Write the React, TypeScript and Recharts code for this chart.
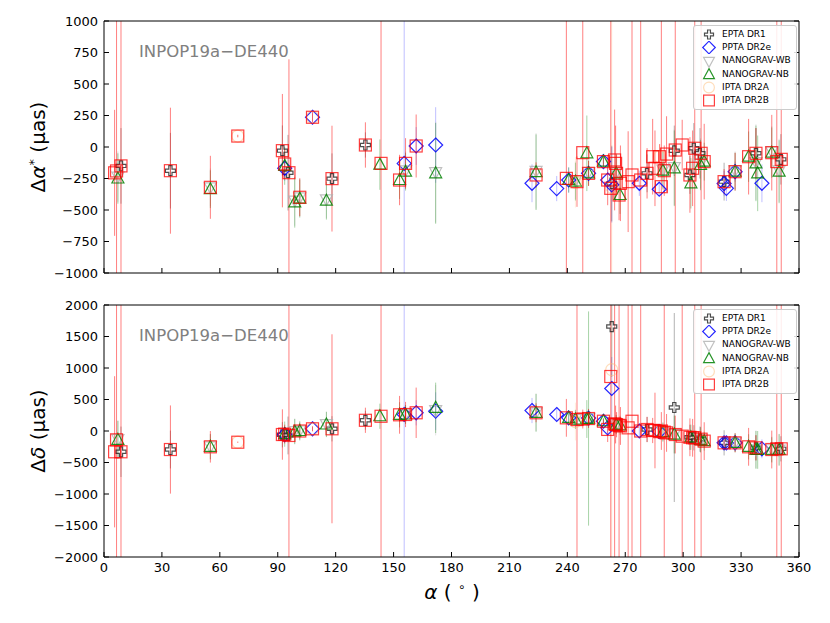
import { ScatterChart, Scatter, XAxis, YAxis, ErrorBar, Legend } from 'recharts';

// rows: [ra (deg), dAlpha*, err dAlpha*, dDelta, err dDelta]  (µas)
type Row = [number, number, number, number, number];

const X_TICKS = [0, 30, 60, 90, 120, 150, 180, 210, 240, 270, 300, 330, 360];
const ALPHA_TICKS = [-1000, -750, -500, -250, 0, 250, 500, 750, 1000];
const DELTA_TICKS = [-2000, -1500, -1000, -500, 0, 500, 1000, 1500, 2000];

const EPTA_DR1: Row[] = [
  [8.8, -150, 300, -330, 400],
  [34.4, -188, 300, -294, 300],
  [92.4, -29, 200, -60, 200],
  [95.3, -204, 300, -71, 300],
  [118.1, -251, 200, 35, 200],
  [135.4, 16, 100, 170, 150],
  [263, -290, 300, 1658, 800],
  [281.3, -209, 150, 24, 200],
  [295.4, -30, 200, 373, 1500],
  [303.5, -222, 150, -100, 200],
  [305.5, -10, 200, -108, 200],
  [308.7, -50, 200, -130, 200],
  [321.2, -275, 150, -188, 200],
  [337.7, -50, 200, -267, 200],
  [350.6, -98, 200, -283, 200],
];

const PPTA_DR2E: Row[] = [
  [93.6, -169, 100, -56, 100],
  [108, 236, 30, 35, 30],
  [155.5, -130, 3000, 262, 3000],
  [161.7, 8, 150, 289, 200],
  [171.8, 16, 300, 314, 300],
  [221.7, -288, 150, 325, 200],
  [234.5, -330, 100, 262, 100],
  [240.7, -262, 100, 209, 100],
  [251, -209, 50, 205, 50],
  [258.7, -116, 30, 155, 30],
  [260.9, -262, 100, 50, 100],
  [263, -300, 300, 675, 500],
  [277.3, -288, 100, 0, 100],
  [287.6, -335, 50, -10, 50],
  [321.2, -290, 100, -188, 100],
  [322.4, -328, 100, -190, 100],
  [326.9, -196, 80, -188, 80],
  [340.8, -288, 150, -283, 150],
];

const NANOGRAV_WB: Row[] = [
  [7.2, -235, 200, -130, 300],
  [55.1, -320, 150, -245, 200],
  [98.8, -425, 200, 0, 200],
  [101.4, -400, 150, 10, 150],
  [115.2, -415, 150, 110, 200],
  [156.2, -185, 150, 265, 150],
  [171.8, -200, 400, 330, 400],
  [223.8, -190, 300, 295, 300],
  [244.2, -265, 150, 190, 150],
  [251, -200, 100, 205, 150],
  [265.3, -200, 150, 105, 150],
  [289.5, -180, 150, -10, 150],
  [295.4, -160, 300, -50, 300],
  [309, -130, 200, -135, 200],
  [326.9, -185, 150, -180, 150],
  [337.7, -120, 300, -290, 300],
  [345.9, -35, 200, -290, 200],
  [349.7, -185, 250, -295, 250],
];

const NANOGRAV_NB: Row[] = [
  [7.2, -250, 200, -140, 300],
  [55.1, -335, 150, -251, 200],
  [93.6, -150, 150, -50, 200],
  [98.8, -440, 200, -10, 200],
  [101.4, -410, 150, 0, 150],
  [115.2, -426, 150, 103, 200],
  [142.9, -140, 200, 234, 200],
  [153.1, -262, 150, 257, 200],
  [156.2, -196, 150, 262, 150],
  [171.8, -209, 400, 368, 400],
  [223.8, -200, 300, 289, 300],
  [240.7, -262, 100, 209, 100],
  [244.2, -275, 150, 182, 150],
  [250.1, -50, 300, 190, 300],
  [251, -209, 100, 198, 1700],
  [258.7, -116, 50, 155, 50],
  [265.3, -209, 150, 100, 150],
  [267.3, -381, 150, 90, 150],
  [289.5, -188, 150, -19, 150],
  [295.4, -169, 300, -56, 300],
  [304, -288, 200, -100, 200],
  [309, -143, 200, -140, 200],
  [310.9, -116, 150, -161, 150],
  [326.9, -196, 150, -188, 150],
  [333.9, -77, 200, -251, 200],
  [337.7, -130, 300, -300, 300],
  [338.6, -209, 300, -300, 300],
  [345.9, -45, 200, -300, 200],
  [349.7, -196, 250, -300, 250],
];

const IPTA_DR2A: Row[] = [
  [69.3, 87, 10, -178, 10],
  [108, 236, 40, 35, 40],
  [244.2, -280, 200, 150, 300],
  [263, -320, 3000, 975, 3000],
  [287.8, -77, 100, -10, 100],
];

const IPTA_DR2B: Row[] = [
  [5.5, -205, 500, -330, 1200],
  [6.5, -190, 3000, -140, 3000],
  [8.8, -150, 3000, -330, 3000],
  [34.4, -188, 500, -294, 700],
  [55.1, -320, 250, -251, 250],
  [69.3, 87, 10, -178, 10],
  [92.4, -29, 450, -56, 400],
  [93.6, -135, 120, -50, 150],
  [95.8, -204, 900, -71, 3000],
  [101.4, -399, 150, 0, 120],
  [108, 236, 40, 35, 40],
  [118.1, -251, 420, 35, 1500],
  [135.4, 16, 180, 170, 200],
  [143.5, -130, 3000, 234, 3000],
  [153.1, -262, 200, 257, 300],
  [156.2, -130, 200, 262, 200],
  [161.7, 8, 250, 289, 400],
  [223.8, -222, 100, 289, 150],
  [239.5, -249, 3000, 209, 300],
  [245, -275, 200, 182, 3000],
  [248, -45, 3000, 190, 150],
  [251, -209, 100, 198, 150],
  [258.7, -116, 40, 155, 40],
  [260.9, -262, 200, 25, 200],
  [262.5, -328, 3000, 865, 3000],
  [264.5, -103, 400, 114, 3000],
  [265, -130, 300, 103, 300],
  [265.5, -209, 150, 100, 200],
  [266.8, -381, 200, 90, 3000],
  [267.5, -288, 300, 80, 300],
  [271.5, -275, 400, 50, 3000],
  [273.5, -222, 3000, 155, 3000],
  [278, -262, 3000, 0, 3000],
  [281.3, -209, 200, 24, 200],
  [284.2, -77, 300, 8, 200],
  [285.4, -169, 300, 8, 600],
  [288.7, -315, 3000, 0, 300],
  [287.8, -77, 100, -10, 100],
  [290.2, -188, 200, -19, 3000],
  [291.4, -56, 300, -30, 300],
  [295.9, -24, 3000, -56, 300],
  [299.5, 16, 200, -82, 3000],
  [303.5, -222, 300, -100, 300],
  [304.9, -169, 300, -108, 300],
  [306, -10, 3000, -108, 3000],
  [309.3, -50, 3000, -130, 3000],
  [310.9, -116, 300, -161, 300],
  [321.2, -275, 100, -188, 100],
  [326.9, -196, 150, -188, 150],
  [333.9, -77, 300, -251, 300],
  [337.7, -50, 200, -267, 200],
  [345.9, -45, 300, -294, 300],
  [348.5, -116, 3000, -283, 3000],
  [350.8, -98, 3000, -283, 3000],
];

const SERIES = [
  { name: 'EPTA DR1', rows: EPTA_DR1, kind: 'plus', color: '#222222', op: 0.8, errOp: 0.35 },
  { name: 'PPTA DR2e', rows: PPTA_DR2E, kind: 'diamond', color: '#0000ff', op: 0.85, errOp: 0.25 },
  { name: 'NANOGRAV-WB', rows: NANOGRAV_WB, kind: 'tridown', color: '#b0b0b0', op: 0.8, errOp: 0.35 },
  { name: 'NANOGRAV-NB', rows: NANOGRAV_NB, kind: 'tri', color: '#008000', op: 0.85, errOp: 0.35 },
  { name: 'IPTA DR2A', rows: IPTA_DR2A, kind: 'circle', color: '#ffbb77', op: 0.5, errOp: 0.25 },
  { name: 'IPTA DR2B', rows: IPTA_DR2B, kind: 'square', color: '#ff0000', op: 0.75, errOp: 0.5 },
];

function Marker({ kind, cx, cy, color, op, s = 1 }: any) {
  const common = { fill: 'none', stroke: color, strokeOpacity: op, strokeWidth: 1.2 };
  if (cx == null || cy == null) return null;
  switch (kind) {
    case 'square':
      return <rect x={cx - 6 * s} y={cy - 6 * s} width={12 * s} height={12 * s} {...common} />;
    case 'diamond':
      return <path d={`M${cx},${cy - 7 * s}L${cx + 7 * s},${cy}L${cx},${cy + 7 * s}L${cx - 7 * s},${cy}Z`} {...common} />;
    case 'tri':
      return <path d={`M${cx},${cy - 6.5 * s}L${cx + 6 * s},${cy + 4.5 * s}L${cx - 6 * s},${cy + 4.5 * s}Z`} {...common} />;
    case 'tridown':
      return <path d={`M${cx},${cy + 6.5 * s}L${cx + 6 * s},${cy - 4.5 * s}L${cx - 6 * s},${cy - 4.5 * s}Z`} {...common} />;
    case 'circle':
      return <circle cx={cx} cy={cy} r={6 * s} {...common} />;
    default: {
      const a = 1.6 * s;
      const b = 5 * s;
      const d = `M${cx - a},${cy - b}H${cx + a}V${cy - a}H${cx + b}V${cy + a}H${cx + a}V${cy + b}H${cx - a}V${cy + a}H${cx - b}V${cy - a}H${cx - a}Z`;
      return <path d={d} {...common} />;
    }
  }
}

const fmt = (v: number) => String(v).replace('-', '\u2212');
const blank = () => '';

function LegendBox(props: any) {
  const names = (props.payload || []).map((p: any) => p.value);
  const list = names.length ? SERIES.filter((s) => names.includes(s.name)) : SERIES;
  return (
    <div
      style={{
        border: '1px solid #cccccc',
        borderRadius: 3,
        background: 'rgba(255,255,255,0.85)',
        padding: '2px 5px 2px 5px',
        fontFamily: 'DejaVu Sans, sans-serif',
        fontSize: 9,
        lineHeight: '13.2px',
        color: '#000',
      }}
    >
      {list.map((s) => (
        <div key={s.name} style={{ display: 'flex', alignItems: 'center', whiteSpace: 'nowrap' }}>
          <svg width={20} height={13} style={{ flex: 'none' }}>
            <Marker kind={s.kind} cx={10} cy={6.5} color={s.color} op={s.op} s={0.9} />
          </svg>
          <span style={{ marginLeft: 3 }}>{s.name}</span>
        </div>
      ))}
    </div>
  );
}

const tickLine = { stroke: '#000', strokeWidth: 1 };

function Panel({ valueIdx, ticks, domain, height }: any) {
  const plotH = 252;
  const [lo, hi] = domain;
  // error bars are cut at the axis limits, as matplotlib clips them to the axes box
  const build = (rows: Row[]) =>
    rows.map((r) => {
      const v = r[valueIdx];
      const e = r[valueIdx + 1];
      return { ra: r[0], v, err: [Math.max(0, Math.min(e, v - lo)), Math.max(0, Math.min(e, hi - v))] };
    });
  return (
    <ScatterChart
      width={830}
      height={height}
      margin={{ top: 20, right: 30, bottom: height - 21 - plotH - 1, left: 103 }}
      style={{ fontFamily: 'DejaVu Sans, sans-serif' }}
    >
      <XAxis
        type="number"
        dataKey="ra"
        domain={[0, 360]}
        ticks={X_TICKS}
        interval={0}
        allowDataOverflow
        height={1}
        tickSize={-5}
        tickMargin={11}
        stroke="#000"
        tickLine={tickLine}
        tickFormatter={valueIdx === 1 ? blank : undefined}
        tick={{ fill: '#000', fontSize: 13 }}
      />
      <XAxis
        xAxisId="top"
        orientation="top"
        type="number"
        domain={[0, 360]}
        ticks={X_TICKS}
        interval={0}
        allowDataOverflow
        height={1}
        tickSize={-5}
        stroke="#000"
        tickLine={tickLine}
        tickFormatter={blank}
      />
      <YAxis
        type="number"
        dataKey="v"
        domain={domain}
        ticks={ticks}
        interval={0}
        allowDataOverflow
        width={1}
        tickSize={-5}
        tickMargin={11}
        stroke="#000"
        tickLine={tickLine}
        tickFormatter={fmt}
        tick={{ fill: '#000', fontSize: 13 }}
      />
      <YAxis
        yAxisId="right"
        orientation="right"
        type="number"
        domain={domain}
        ticks={ticks}
        interval={0}
        allowDataOverflow
        width={1}
        tickSize={-5}
        stroke="#000"
        tickLine={tickLine}
        tickFormatter={blank}
      />
      {SERIES.map((s) => (
        <Scatter
          key={s.name}
          name={s.name}
          data={build(s.rows)}
          fill={s.color}
          isAnimationActive={false}
          shape={(p: any) => <Marker kind={s.kind} cx={p.cx} cy={p.cy} color={s.color} op={s.op} />}
        >
          <ErrorBar dataKey="err" direction="y" width={0} stroke={s.color} strokeWidth={1} strokeOpacity={s.errOp} />
        </Scatter>
      ))}
      <Legend
        layout="vertical"
        align="center"
        verticalAlign="middle"
        wrapperStyle={{ left: 693, top: 25, width: 'auto' }}
        content={<LegendBox />}
      />
    </ScatterChart>
  );
}

const labelStyle: any = {
  position: 'absolute',
  fontFamily: 'DejaVu Sans, sans-serif',
  fontSize: 20,
  color: '#000',
  whiteSpace: 'nowrap',
};

const noteStyle: any = {
  position: 'absolute',
  left: 139,
  fontFamily: 'DejaVu Sans, sans-serif',
  fontSize: 16.5,
  color: '#808080',
  whiteSpace: 'nowrap',
};

export default function App() {
  return (
    <div style={{ position: 'absolute', left: 0, top: 0, width: 830, height: 623, background: '#fff', overflow: 'hidden' }}>
      <div style={{ position: 'absolute', left: 0, top: 0 }}>
        <Panel valueIdx={1} ticks={ALPHA_TICKS} domain={[-1000, 1000]} height={290} />
      </div>
      <div style={{ position: 'absolute', left: 0, top: 284 }}>
        <Panel valueIdx={3} ticks={DELTA_TICKS} domain={[-2000, 2000]} height={320} />
      </div>
      <div style={{ ...noteStyle, top: 42 }}>INPOP19a{'\u2212'}DE440</div>
      <div style={{ ...noteStyle, top: 326 }}>INPOP19a{'\u2212'}DE440</div>
      <div style={{ ...labelStyle, left: 38, top: 147, transform: 'translate(-50%, -50%) rotate(-90deg)' }}>
        Δ<i>α</i>
        <sup style={{ fontSize: 13 }}>*</sup> (μas)
      </div>
      <div style={{ ...labelStyle, left: 38, top: 431, transform: 'translate(-50%, -50%) rotate(-90deg)' }}>
        Δ<i>δ</i> (μas)
      </div>
      <div style={{ ...labelStyle, left: 452, top: 592, transform: 'translate(-50%, -50%)' }}>
        <i>α</i> ( <sup style={{ fontSize: 12 }}>∘</sup> )
      </div>
    </div>
  );
}
